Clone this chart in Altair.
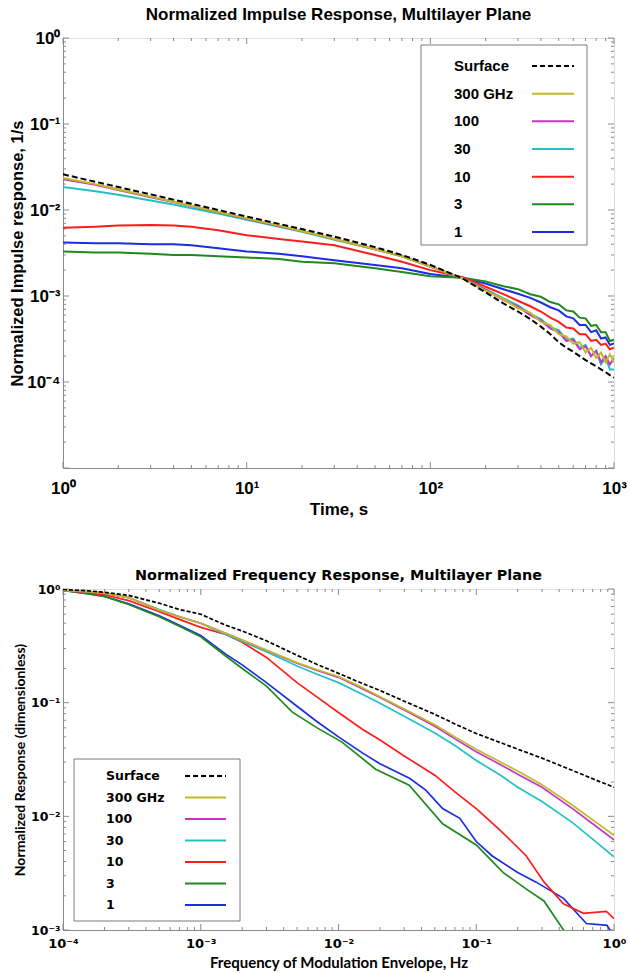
import altair as alt
import pandas as pd

# ---------------- series definitions ----------------
SERIES = ["Surface", "300 GHz", "100", "30", "10", "3", "1"]
COLORS = ["#000000", "#c2ba24", "#c536c5", "#22c2c2", "#ff1c1c", "#1e8a1e", "#1c2ee0"]
DASH_KIND = ["dashed", "solid", "solid", "solid", "solid", "solid", "solid"]
DRAW_ORDER = ["1", "3", "10", "30", "100", "300 GHz", "Surface"]

# ---------------- top: impulse response ----------------
IMP_TIME = [1, 1.5, 2, 3, 4, 5, 7, 10, 15, 20, 30, 50, 70, 100, 150, 200,
            250, 300, 350, 400, 450, 500, 550, 600, 650, 700, 750, 800, 850, 900, 950, 1000]
IMP_SURFACE = [0.026, 0.0213, 0.0185, 0.0152, 0.0132, 0.0118, 0.0100, 0.0084, 0.0069, 0.0060,
               0.0049, 0.0037, 0.0030, 0.0023, 0.0016, 0.0011, 0.00082, 0.00066, 0.00054, 0.00044,
               0.00036, 0.00029, 0.00025, 0.000225, 0.0002, 0.00018, 0.000165, 0.000152, 0.00014,
               0.00013, 0.00012, 0.000112]
IMP_300 = [0.0235, 0.0200, 0.0173, 0.0143, 0.0125, 0.0112, 0.0095, 0.0080, 0.0066, 0.0057,
           0.0046, 0.0035, 0.0029, 0.0022, 0.0016, 0.00115, 0.00092, 0.00072, 0.00064, 0.00050,
           0.00046, 0.00036, 0.00034, 0.00028, 0.00029, 0.00022, 0.00025, 0.00019, 0.00022,
           0.00017, 0.00021, 0.00017]
IMP_100 = [0.0228, 0.0196, 0.0171, 0.0141, 0.0124, 0.0111, 0.0094, 0.0079, 0.0065, 0.0057,
           0.0046, 0.0035, 0.0029, 0.0022, 0.0016, 0.00118, 0.0009, 0.00075, 0.0006, 0.00052,
           0.00042, 0.00038, 0.0003, 0.00031, 0.00024, 0.00026, 0.0002, 0.00023, 0.00017,
           0.0002, 0.00016, 0.00019]
IMP_30 = [0.0185, 0.0165, 0.0150, 0.0129, 0.0116, 0.0105, 0.0091, 0.0077, 0.0064, 0.0056,
          0.0045, 0.0035, 0.0029, 0.0022, 0.0016, 0.0012, 0.00094, 0.00078, 0.00062, 0.00054,
          0.00043, 0.0004, 0.00031, 0.00032, 0.00025, 0.00027, 0.0002, 0.00023, 0.00016,
          0.00019, 0.00014, 0.00014]
IMP_10 = [0.0062, 0.0064, 0.0066, 0.0067, 0.0066, 0.0064, 0.0058, 0.0051, 0.0046, 0.0043,
          0.0039, 0.0030, 0.0025, 0.0020, 0.00165, 0.00128, 0.00105, 0.00088, 0.00076, 0.00066,
          0.00056, 0.0005, 0.00043, 0.00042, 0.00036, 0.00036, 0.0003, 0.00031, 0.00027,
          0.00028, 0.00024, 0.00025]
IMP_3 = [0.0033, 0.0032, 0.0032, 0.0031, 0.0030, 0.0030, 0.0029, 0.0028, 0.0027, 0.0025,
         0.0024, 0.0021, 0.0019, 0.0017, 0.00163, 0.00148, 0.0013, 0.0012, 0.00105, 0.00098,
         0.00085, 0.0008, 0.00068, 0.00066, 0.00056, 0.00055, 0.00045, 0.00046, 0.00038,
         0.00038, 0.0003, 0.00031]
IMP_1 = [0.0042, 0.0041, 0.0041, 0.0040, 0.0040, 0.0039, 0.0036, 0.0033, 0.0031, 0.0029,
         0.0026, 0.0023, 0.0021, 0.0018, 0.00162, 0.0014, 0.0012, 0.00106, 0.00095, 0.00084,
         0.00074, 0.00068, 0.00058, 0.00055, 0.00046, 0.00046, 0.00038, 0.0004, 0.00032,
         0.00033, 0.00027, 0.00028]

# ---------------- bottom: frequency response ----------------
FREQ_BASE = [1e-4, 1.5e-4, 2e-4, 3e-4, 5e-4, 7e-4, 1e-3, 1.5e-3, 2e-3, 3e-3, 5e-3, 7e-3,
             1e-2, 1.5e-2, 2e-2, 3e-2, 5e-2, 7e-2, 0.1, 0.15, 0.2, 0.3, 0.5, 0.7, 1.0]
FR_SURFACE = [0.99, 0.965, 0.935, 0.88, 0.75, 0.66, 0.60, 0.483, 0.427, 0.35, 0.261, 0.217,
              0.181, 0.147, 0.128, 0.103, 0.079, 0.065, 0.0535, 0.0445, 0.039, 0.0325, 0.0253,
              0.0214, 0.018]
FR_300 = [0.97, 0.95, 0.92, 0.84, 0.65, 0.57, 0.50, 0.41, 0.355, 0.29, 0.225, 0.195, 0.17,
          0.135, 0.113, 0.088, 0.064, 0.05, 0.039, 0.030, 0.025, 0.019, 0.0125, 0.0093, 0.0068]
FR_100 = [0.97, 0.95, 0.92, 0.84, 0.65, 0.57, 0.50, 0.41, 0.355, 0.288, 0.222, 0.192, 0.167,
          0.132, 0.111, 0.086, 0.062, 0.048, 0.037, 0.0285, 0.0235, 0.018, 0.0117, 0.0086, 0.0062]
FR_30 = [0.97, 0.95, 0.92, 0.84, 0.66, 0.57, 0.50, 0.40, 0.345, 0.28, 0.21, 0.178, 0.15,
         0.118, 0.099, 0.076, 0.054, 0.042, 0.031, 0.023, 0.018, 0.0135, 0.0088, 0.0063, 0.0044]
FREQ_10 = [1e-4, 1.5e-4, 2e-4, 3e-4, 5e-4, 7e-4, 1e-3, 1.5e-3, 2e-3, 3e-3, 5e-3, 7e-3,
           1e-2, 1.5e-2, 2e-2, 3e-2, 5e-2, 7e-2, 0.1, 0.15, 0.23, 0.31, 0.43, 0.6, 0.88, 1.0]
FR_10 = [0.97, 0.93, 0.89, 0.79, 0.63, 0.54, 0.46, 0.40, 0.34, 0.25, 0.15, 0.112, 0.082,
         0.058, 0.047, 0.034, 0.023, 0.0164, 0.0117, 0.0075, 0.0045, 0.00265, 0.0017, 0.0014,
         0.00146, 0.00126]
FREQ_1 = [1e-4, 1.5e-4, 2e-4, 3e-4, 5e-4, 7e-4, 1e-3, 1.5e-3, 2e-3, 3e-3, 5e-3, 7e-3,
          1e-2, 1.5e-2, 2e-2, 3.3e-2, 4.3e-2, 5.7e-2, 7.6e-2, 0.1, 0.13, 0.2, 0.27, 0.43,
          0.63, 0.89, 1.0]
FR_1 = [0.97, 0.91, 0.86, 0.74, 0.58, 0.48, 0.39, 0.27, 0.215, 0.15, 0.093, 0.068, 0.05,
        0.036, 0.029, 0.0215, 0.017, 0.0117, 0.0096, 0.006, 0.0045, 0.0032, 0.00265, 0.0019,
        0.00114, 0.0011, 0.00088]
FREQ_3 = [1e-4, 1.5e-4, 2e-4, 3e-4, 5e-4, 7e-4, 1e-3, 1.5e-3, 2e-3, 3e-3, 4.6e-3, 7e-3,
          1.06e-2, 1.86e-2, 3.26e-2, 5.7e-2, 0.1, 0.157, 0.23, 0.31, 0.43, 0.5]
FR_3 = [0.97, 0.91, 0.86, 0.73, 0.57, 0.47, 0.38, 0.26, 0.20, 0.14, 0.083, 0.06, 0.045,
        0.026, 0.0188, 0.0086, 0.0056, 0.0032, 0.0023, 0.0018, 0.001, 0.0008]

TOP_X_LABELS = [1, 10, 100, 1000]
TOP_Y_LABELS = [1, 0.1, 0.01, 0.001, 0.0001]
BOT_X_LABELS = [1e-4, 1e-3, 1e-2, 1e-1, 1]
BOT_Y_LABELS = [1, 0.1, 0.01, 0.001]

# ---------------- styling ----------------
GRAY = "#8a8a8a"
F1 = "Liberation Sans Narrow, Arial Narrow, Liberation Sans, Arial, sans-serif"
F2 = "DejaVu Sans, Verdana, sans-serif"
F3 = "Lato, Open Sans, sans-serif"
SUP = ("'10' + ['\u207b\u2075','\u207b\u2074','\u207b\u00b3','\u207b\u00b2','\u207b\u00b9',"
       "'\u2070','\u00b9','\u00b2','\u00b3'][round(log(datum.value)/LN10) + 5]")


def decade_ticks(lo, hi):
    major = [10.0 ** e for e in range(lo, hi + 1)]
    minor = [m * 10.0 ** e for e in range(lo, hi) for m in range(2, 10)]
    return major, minor


def tick_layers(xmaj, xmin, ymaj, ymin, xsc, ysc, axx, axy, W, H, lmaj, lmin):
    out = []
    for vals, ln in ((xmaj, lmaj), (xmin, lmin)):
        d = pd.DataFrame({"v": vals})
        out.append(alt.Chart(d).mark_rule(color=GRAY, strokeWidth=1).encode(
            x=alt.X("v:Q", scale=xsc, axis=axx), y=alt.value(H), y2=alt.value(H - ln)))
        out.append(alt.Chart(d).mark_rule(color=GRAY, strokeWidth=1).encode(
            x=alt.X("v:Q", scale=xsc, axis=axx), y=alt.value(0), y2=alt.value(ln)))
    for vals, ln in ((ymaj, lmaj), (ymin, lmin)):
        d = pd.DataFrame({"v": vals})
        out.append(alt.Chart(d).mark_rule(color=GRAY, strokeWidth=1).encode(
            y=alt.Y("v:Q", scale=ysc, axis=axy), x=alt.value(0), x2=alt.value(ln)))
        out.append(alt.Chart(d).mark_rule(color=GRAY, strokeWidth=1).encode(
            y=alt.Y("v:Q", scale=ysc, axis=axy), x=alt.value(W - ln), x2=alt.value(W)))
    return out


def line_layers(xs_map, ys_map, xsc, ysc, axx, axy, width, dash):
    out = []
    for name in DRAW_ORDER:
        i = SERIES.index(name)
        d = pd.DataFrame({"x": xs_map[name], "y": ys_map[name]})
        kw = dict(color=COLORS[i], strokeWidth=width, clip=True)
        if DASH_KIND[i] == "dashed":
            kw["strokeDash"] = dash
        out.append(alt.Chart(d).mark_line(**kw).encode(
            x=alt.X("x:Q", scale=xsc, axis=axx), y=alt.Y("y:Q", scale=ysc, axis=axy)))
    return out


def legend_layer(box, rows, label_x, line_x, font, size, lw, dash):
    leg = pd.DataFrame({"label": SERIES, "dash": DASH_KIND})
    ly = alt.Y("label:N", sort=SERIES, axis=None,
               scale=alt.Scale(type="point", range=rows, padding=0))
    frame = alt.Chart(pd.DataFrame({"a": [0]})).mark_rect(
        fill="white", stroke="#7a7a7a", strokeWidth=1).encode(
        x=alt.value(box[0]), x2=alt.value(box[1]), y=alt.value(box[2]), y2=alt.value(box[3]))
    texts = alt.Chart(leg).mark_text(align="left", baseline="middle", font=font,
                                     fontSize=size, fontWeight="bold", color="black").encode(
        x=alt.value(label_x), y=ly, text="label:N")
    rules = alt.Chart(leg).mark_rule(strokeWidth=lw).encode(
        x=alt.value(line_x[0]), x2=alt.value(line_x[1]), y=ly,
        color=alt.Color("label:N", scale=alt.Scale(domain=SERIES, range=COLORS), legend=None),
        strokeDash=alt.StrokeDash("dash:N", legend=None,
                                  scale=alt.Scale(domain=["dashed", "solid"], range=[dash, [1, 0]])))
    return alt.layer(frame, texts, rules)


# ---------------- top chart ----------------
W1, H1 = 551, 430
xs1 = alt.Scale(type="log", domain=[1, 1000], nice=False)
ys1 = alt.Scale(type="log", domain=[1e-5, 1], nice=False)
ax_x1 = alt.Axis(values=TOP_X_LABELS, labelExpr=SUP, ticks=False, grid=False,
                 domainColor=GRAY, labelFont=F1, labelFontSize=17, labelFontWeight="bold",
                 labelColor="black", labelPadding=12, labelOverlap=False, labelFlush=False,
                 title="Time, s", titleFont=F1, titleFontSize=17, titleFontWeight="bold",
                 titlePadding=5, titleColor="black")
ax_y1 = alt.Axis(values=TOP_Y_LABELS, labelExpr=SUP, ticks=False, grid=False,
                 domainColor=GRAY, labelFont=F1, labelFontSize=17, labelFontWeight="bold",
                 labelColor="black", labelPadding=3, labelOverlap=False, labelFlush=False,
                 title="Normalized Impulse response, 1/s", titleFont=F1, titleFontSize=16.5,
                 titleFontWeight="bold", titlePadding=1, titleColor="black")

top_x = {n: IMP_TIME for n in SERIES}
top_y = {"Surface": IMP_SURFACE, "300 GHz": IMP_300, "100": IMP_100, "30": IMP_30,
         "10": IMP_10, "3": IMP_3, "1": IMP_1}
tx_maj, tx_min = decade_ticks(0, 3)
ty_maj, ty_min = decade_ticks(-5, 0)
top_data = alt.layer(*(tick_layers(tx_maj, tx_min, ty_maj, ty_min, xs1, ys1, ax_x1, ax_y1,
                                   W1, H1, 6, 3)
                       + line_layers(top_x, top_y, xs1, ys1, ax_x1, ax_y1, 2, [6, 3])))
top_leg = legend_layer((358, 524, 7, 207), [28, 194], 391, (469, 511), F1, 15, 2, [5, 3])
top = alt.layer(top_data, top_leg).resolve_scale(x="independent", y="independent").properties(
    width=W1, height=H1,
    title=alt.Title("Normalized Impulse Response, Multilayer Plane", font=F1, fontSize=17,
                    fontWeight="bold", color="black", offset=5, anchor="middle"))

# ---------------- bottom chart ----------------
W2, H2 = 551, 341
xs2 = alt.Scale(type="log", domain=[1e-4, 1], nice=False)
ys2 = alt.Scale(type="log", domain=[1e-3, 1], nice=False)
ax_x2 = alt.Axis(values=BOT_X_LABELS, labelExpr=SUP, ticks=False, grid=False,
                 domainColor=GRAY, labelFont=F2, labelFontSize=13, labelFontWeight="bold",
                 labelColor="black", labelPadding=7, labelOverlap=False, labelFlush=False,
                 title="Frequency of Modulation Envelope, Hz", titleFont=F3, titleFontSize=15,
                 titleFontWeight="bold", titlePadding=5, titleColor="black")
ax_y2 = alt.Axis(values=BOT_Y_LABELS, labelExpr=SUP, ticks=False, grid=False,
                 domainColor=GRAY, labelFont=F2, labelFontSize=12.5, labelFontWeight="bold",
                 labelColor="black", labelPadding=3, labelOverlap=False, labelFlush=False,
                 title="Normalized Response (dimensionless)", titleFont=F3, titleFontSize=14,
                 titleFontWeight="bold", titlePadding=3, titleColor="black")
bot_x = {"Surface": FREQ_BASE, "300 GHz": FREQ_BASE, "100": FREQ_BASE, "30": FREQ_BASE,
         "10": FREQ_10, "3": FREQ_3, "1": FREQ_1}
bot_y = {"Surface": FR_SURFACE, "300 GHz": FR_300, "100": FR_100, "30": FR_30,
         "10": FR_10, "3": FR_3, "1": FR_1}
bx_maj, bx_min = decade_ticks(-4, 0)
by_maj, by_min = decade_ticks(-3, 0)
bot_data = alt.layer(*(tick_layers(bx_maj, bx_min, by_maj, by_min, xs2, ys2, ax_x2, ax_y2,
                                   W2, H2, 6, 3)
                       + line_layers(bot_x, bot_y, xs2, ys2, ax_x2, ax_y2, 1.7, [4, 2])))
bot_leg = legend_layer((11, 177, 170, 332), [187, 316], 43, (122, 163), F2, 12.5, 2, [4, 2])
bottom = alt.layer(bot_data, bot_leg).resolve_scale(x="independent", y="independent").properties(
    width=W2, height=H2,
    title=alt.Title("Normalized Frequency Response, Multilayer Plane", font=F2, fontSize=14.4,
                    fontWeight="bold", color="black", offset=0, anchor="middle"))

chart = alt.concat(top, bottom, columns=1, spacing=49, align="none").properties(
    padding={"left": 9, "top": 5, "right": 0, "bottom": 0}
).configure_view(stroke=GRAY, strokeWidth=1).configure(background="white")

chart.save("out.html", embed_options={"renderer": "svg", "actions": False})
